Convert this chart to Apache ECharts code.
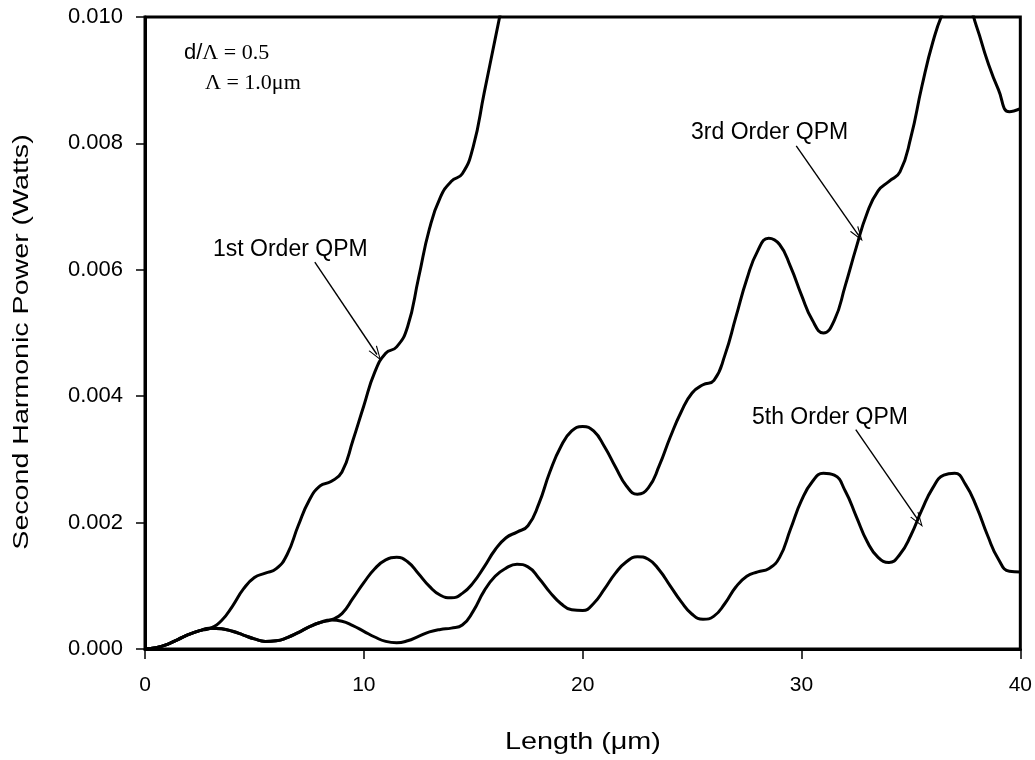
<!DOCTYPE html>
<html>
<head>
<meta charset="utf-8">
<script src="https://cdn.jsdelivr.net/npm/echarts@6/dist/echarts.min.js"></script>
<style>html,body{margin:0;padding:0;background:#fff}#c{width:1035px;height:760px}</style>
</head>
<body>
<div id="c"></div>
<script>
// Length (µm), step 0.5
const lengths = [];
for (let i = 0; i <= 80; i++) lengths.push(i * 0.5);

// Second harmonic power in mW (×1e-3 W)
const firstOrder = [0, 0.02, 0.07, 0.15, 0.23, 0.29, 0.33, 0.45, 0.68, 0.95, 1.13, 1.20, 1.27, 1.5, 1.95, 2.35, 2.58, 2.65, 2.8, 3.3, 3.85, 4.38, 4.68, 4.78, 5.1, 5.87, 6.65, 7.15, 7.4, 7.52, 7.95, 8.8, 9.65, 10.5];

const thirdOrder = [0, 0.02, 0.07, 0.15, 0.23, 0.29, 0.33, 0.32, 0.28, 0.22, 0.16, 0.12, 0.13, 0.18, 0.26, 0.35, 0.42, 0.46,
  0.56, 0.8, 1.05, 1.27, 1.41, 1.45, 1.38, 1.19, 0.99, 0.85, 0.81, 0.88, 1.05, 1.3, 1.57, 1.76, 1.85, 1.95,
  2.3, 2.8, 3.2, 3.45, 3.52, 3.45, 3.2, 2.88, 2.58, 2.45, 2.55, 2.9, 3.35, 3.75, 4.05, 4.18, 4.25, 4.65,
  5.25, 5.85, 6.3, 6.5, 6.4, 6.05, 5.6, 5.2, 5.0, 5.2, 5.75, 6.35, 6.9, 7.25, 7.4, 7.55, 8.1, 8.9, 9.6,
  10.1, 10.4, 10.3, 9.85, 9.3, 8.85, 8.5, 8.55];

const fifthOrder = [0, 0.02, 0.07, 0.15, 0.23, 0.29, 0.33, 0.32, 0.28, 0.22, 0.16, 0.12, 0.13, 0.18, 0.26, 0.35, 0.42, 0.46,
  0.44, 0.37, 0.28, 0.19, 0.12, 0.10, 0.13, 0.2, 0.27, 0.31, 0.33, 0.38, 0.6, 0.92, 1.15, 1.28, 1.34, 1.3,
  1.12, 0.9, 0.72, 0.62, 0.61, 0.72, 0.95, 1.2, 1.38, 1.46, 1.42, 1.25, 1.0, 0.75, 0.55, 0.47, 0.52, 0.72,
  0.98, 1.15, 1.22, 1.27, 1.45, 1.9, 2.35, 2.65, 2.78, 2.75, 2.5, 2.1, 1.7, 1.45, 1.37, 1.5, 1.8, 2.2, 2.55,
  2.75, 2.78, 2.6, 2.25, 1.8, 1.42, 1.23, 1.22];

const xTicks = [0, 10, 20, 30, 40];
const yTicks = [0, 2, 4, 6, 8, 10]; // mW -> labels 0.000 ... 0.010

// arrow annotations in data coords [length, mW]
const arrow1 = [[7.76, 6.12], [10.6, 4.66]];
const arrow3 = [[29.76, 7.96], [32.6, 6.55]];
const arrow5 = [[32.48, 3.47], [35.35, 2.03]];

function pairs(ys) { return ys.map((v, i) => [lengths[i], v]); }

const arrowSym = 'path://M5,0 L10,12 L8.8,12 L5,2.6 L1.2,12 L0,12 Z';
function arrowLine(a) {
  return {
    silent: true, animation: false,
    symbol: ['none', arrowSym], symbolSize: [10, 15],
    label: { show: false },
    lineStyle: { color: '#000', width: 1.4, type: 'solid' },
    emphasis: { disabled: true },
    data: [[{ coord: a[0] }, { coord: a[1] }]]
  };
}

const lineStyle = { color: '#000', width: 3 };
const chart = echarts.init(document.getElementById('c'));
chart.setOption({
  animation: false,
  backgroundColor: '#fff',
  grid: { left: 145, right: 14, top: 17, bottom: 111, show: true, borderColor: '#000', borderWidth: 3 },
  xAxis: {
    type: 'value', min: 0, max: 40, interval: 10,
    axisLine: { show: true, lineStyle: { color: '#000', width: 3 } },
    axisTick: { show: true, inside: false, length: 10, lineStyle: { color: '#000', width: 1.5 } },
    axisLabel: { color: '#000', fontSize: 21, fontFamily: 'Liberation Sans', margin: 26,
      formatter: v => xTicks.includes(v) ? String(v) : '' },
    splitLine: { show: false }
  },
  yAxis: {
    type: 'value', min: 0, max: 10, interval: 2,
    axisLine: { show: true, lineStyle: { color: '#000', width: 3 } },
    axisTick: { show: true, inside: false, length: 9, lineStyle: { color: '#000', width: 1.5 } },
    axisLabel: { color: '#000', fontSize: 22, fontFamily: 'Liberation Sans', margin: 22,
      formatter: v => yTicks.includes(v) ? (v / 1000).toFixed(3) : '' },
    splitLine: { show: false }
  },
  series: [
    { type: 'line', data: pairs(fifthOrder), smooth: 0.5, showSymbol: false, lineStyle, clip: true, markLine: arrowLine(arrow5) },
    { type: 'line', data: pairs(thirdOrder), smooth: 0.5, showSymbol: false, lineStyle, clip: true, markLine: arrowLine(arrow3) },
    { type: 'line', data: pairs(firstOrder), smooth: 0.5, showSymbol: false, lineStyle, clip: true, markLine: arrowLine(arrow1) }
  ],
  graphic: [
    { type: 'text', x: 22, y: 342, rotation: Math.PI / 2, scaleX: 1.3,
      style: { text: 'Second Harmonic Power (Watts)', fontSize: 22, fontFamily: 'Liberation Sans', fill: '#000', align: 'center', verticalAlign: 'middle' } },
    { type: 'text', x: 583, y: 742, scaleX: 1.2,
      style: { text: 'Length (μm)', fontSize: 24, fontFamily: 'Liberation Sans', fill: '#000', align: 'center', verticalAlign: 'middle' } },
    { type: 'text', x: 184, y: 53,
      style: { text: 'd/{s|Λ = 0.5}', fontSize: 22, fontFamily: 'Liberation Sans', fill: '#000', verticalAlign: 'middle',
        rich: { s: { fontSize: 22, fontFamily: 'Liberation Serif', fill: '#000' } } } },
    { type: 'text', x: 205, y: 83,
      style: { text: 'Λ = 1.0μm', fontSize: 22, fontFamily: 'Liberation Serif', fill: '#000', verticalAlign: 'middle' } },
    { type: 'text', x: 213, y: 250,
      style: { text: '1st Order QPM', fontSize: 23, fontFamily: 'Liberation Sans', fill: '#000', verticalAlign: 'middle' } },
    { type: 'text', x: 691, y: 133,
      style: { text: '3rd Order QPM', fontSize: 23, fontFamily: 'Liberation Sans', fill: '#000', verticalAlign: 'middle' } },
    { type: 'text', x: 752, y: 418,
      style: { text: '5th Order QPM', fontSize: 23, fontFamily: 'Liberation Sans', fill: '#000', verticalAlign: 'middle' } }
  ]
});
</script>
</body>
</html>
